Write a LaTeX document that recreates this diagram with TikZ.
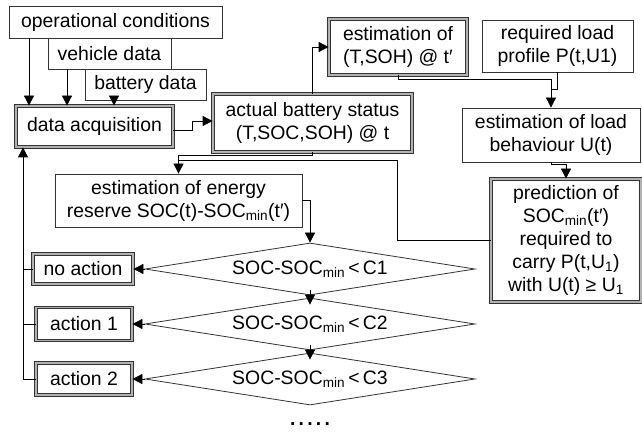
\documentclass[tikz,border=0pt]{standalone}
\usepackage{fontspec}
\setsansfont{Liberation Sans}
\usetikzlibrary{calc,shapes.geometric,arrows.meta}

\begin{document}
\begin{tikzpicture}[x=1pt,y=-1pt,font=\sffamily\fontsize{19.4}{23}\selectfont,
    box/.style={draw=black!80,line width=0.8pt,inner sep=0pt,align=center},
    dbox/.style={box,double=black!30,double distance=1.6pt},
    test/.style={diamond,aspect=6.35,draw=black!80,line width=0.8pt,inner sep=0pt,
                 minimum width=330,minimum height=52},
    link/.style={line width=0.8pt},
    arr/.style={link,-{Triangle[length=10pt,width=10pt]}}]
  \useasboundingbox (0,0) rectangle (642,435);
  % input data
  \node[box,minimum width=213,minimum height=32] (opcond)  at (115.5,22)  {operational conditions};
  \node[box,minimum width=123,minimum height=31] (vehicle) at (109.5,53.5) {vehicle data};
  \node[box,minimum width=121,minimum height=31] (battery) at (145.5,84.5) {battery data};
  \node[dbox,minimum width=157,minimum height=41] (acq)    at (94.5,126.5) {data acquisition};
  % status & estimations
  \node[dbox,minimum width=199,minimum height=58] (status) at (312.5,123)
      {actual battery status\\(T,SOC,SOH) @ t};
  \node[dbox,minimum width=138,minimum height=56] (est)    at (398,47)
      {estimation of\\(T,SOH) @ t′};
  \node[box,minimum width=151,minimum height=52]  (profile) at (557.5,46)
      {required load\\profile P(t,U1)};
  \node[box,minimum width=178,minimum height=54]  (load)   at (551,135)
      {estimation of load\\behaviour U(t)};
  \node[dbox,minimum width=150,minimum height=123] (pred)  at (566,240.5)
      {prediction of\\SOC\textsubscript{min}(t′)\\required to\\carry P(t,U\textsubscript{1})\\with U(t) ≥ U\textsubscript{1}};
  \node[box,minimum width=247,minimum height=53]  (energy) at (178.5,200.5)
      {estimation of energy\\reserve SOC(t)-SOC\textsubscript{min}(t′)};
  % decisions
  \foreach \i/\y in {1/269,2/324,3/379}
    \node[test] (d\i) at (310,\y) {SOC-SOC\textsubscript{min}\,<\,C\i};
  \node[dbox,minimum width=100,minimum height=30] (noact) at (83,269)  {no action};
  \node[dbox,minimum width=96,minimum height=33]  (act1)  at (84,324)  {action 1};
  \node[dbox,minimum width=96,minimum height=32]  (act2)  at (84,379)  {action 2};
  \node (dots) at (310,424) {\bfseries.\,.\,.\,.\,.};
  \coordinate (back) at (23,0);
  % connectors
  \foreach \src/\x in {opcond/29,vehicle/67,battery/114}
    \draw[arr] (\src.south -| \x,0) -- (acq.north -| \x,0);
  \draw[arr] ($(acq.east)+(0,4)$) -- ++(19,0) |- ($(status.west)+(0,-2)$);
  \draw[arr] (status.north) |- (est.west);
  \draw[arr] (est.south) -- ++(0,4) -| (load.north);
  \draw[link] (profile.south) |- ($(load.north)+(0,-18)$);
  \draw[arr] (load.south) -- ++(0,2) -| (pred.north);
  \draw[arr] (status.south) -- ++(0,3) -| (energy.north);
  \draw[link] (pred.west) -| (397,160) -- (energy.north |- 0,160);
  \draw[arr] (energy.east) -| (d1.north);
  \foreach \a/\b in {d1/d2,d2/d3}
    \draw[arr] ($(\a.south)+(0,-5)$) -- ($(\b.north)+(0,7)$);
  \foreach \d/\b in {d1/noact,d2/act1,d3/act2}
    \draw[arr] (\d.west) -- (\b.east |- \d.west);
  % way back to acquisition
  \draw[link] (noact.west) -- (noact.west -| back);
  \draw[link] (act1.west) -- (act1.west -| back);
  \draw[arr] (act2.west) -| (back |- acq.south);
\end{tikzpicture}
\end{document}
